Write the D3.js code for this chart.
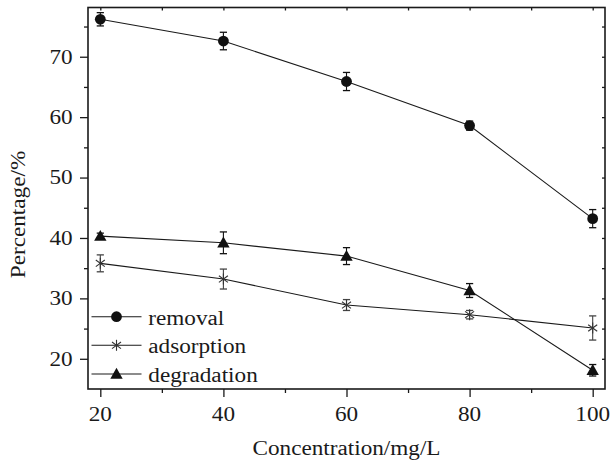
<!DOCTYPE html>
<html>
<head>
<meta charset="utf-8">
<script src="https://cdn.jsdelivr.net/npm/d3@7"></script>
<style>
  html, body { margin: 0; padding: 0; background: #fff; }
  svg { display: block; }
</style>
</head>
<body>
<svg id="chart" width="611" height="463"></svg>
<script>
// Concentration levels (mg/L)
const concentrations = [20, 40, 60, 80, 100];

// Percentages and standard deviations for each process
const removal = [76.2, 72.6, 65.9, 58.6, 43.2];
const removalErr = [1.1, 1.45, 1.5, 0.75, 1.5];
const adsorption = [35.8, 33.2, 28.9, 27.3, 25.1];
const adsorptionErr = [1.4, 1.65, 0.9, 0.7, 2.0];
const degradation = [40.3, 39.2, 37.0, 31.3, 18.1];
const degradationErr = [0.5, 1.8, 1.4, 1.15, 0.95];

const seriesNames = ["removal", "adsorption", "degradation"];
const xTicks = [20, 40, 60, 80, 100];
const xMinorTicks = [30, 50, 70, 90];
const yTicks = [20, 30, 40, 50, 60, 70];
const yMinorTicks = [25, 35, 45, 55, 65, 75];
const xTitle = "Concentration/mg/L";
const yTitle = "Percentage/%";

const series = [
  { name: seriesNames[0], values: removal, errors: removalErr, marker: "circle" },
  { name: seriesNames[1], values: adsorption, errors: adsorptionErr, marker: "asterisk" },
  { name: seriesNames[2], values: degradation, errors: degradationErr, marker: "triangle" }
];

const svg = d3.select("#chart");
const plotL = 88, plotR = 605, plotT = 7.5, plotB = 389;
const FONT = "'Liberation Serif', 'Times New Roman', serif";
const FS = 20, STRETCH = 1.16, INK = "#1a1a1a";

const x = d3.scaleLinear().domain([18, 102]).range([plotL, plotR]);
const y = d3.scaleLinear().domain([15, 78.15]).range([plotB, plotT]);

// Text helper: serif glyphs widened slightly along the baseline
function label(parent, px, py, str, anchor, rot) {
  const g = parent.append("g")
    .attr("transform", `translate(${px},${py}) rotate(${rot || 0}) scale(${STRETCH},1)`);
  g.append("text")
    .attr("text-anchor", anchor)
    .attr("font-family", FONT)
    .attr("font-size", FS)
    .attr("fill", INK)
    .text(str);
  return g;
}

// Axes: bottom/left with outward ticks, top/right mirrored with short inward ticks
const axisStyle = sel => {
  sel.select(".domain").remove();
  sel.selectAll("line").attr("stroke", INK).attr("stroke-width", 1.3);
  sel.selectAll("text").remove();
};

svg.append("g").attr("transform", `translate(0,${plotB})`)
  .call(d3.axisBottom(x).tickValues(xTicks).tickSize(8)).call(axisStyle);
svg.append("g").attr("transform", `translate(0,${plotB})`)
  .call(d3.axisBottom(x).tickValues(xMinorTicks).tickSize(4)).call(axisStyle);
svg.append("g").attr("transform", `translate(${plotL},0)`)
  .call(d3.axisLeft(y).tickValues(yTicks).tickSize(8)).call(axisStyle);
svg.append("g").attr("transform", `translate(${plotL},0)`)
  .call(d3.axisLeft(y).tickValues(yMinorTicks).tickSize(4)).call(axisStyle);
svg.append("g").attr("transform", `translate(0,${plotT})`)
  .call(d3.axisBottom(x).tickValues(xTicks.concat(xMinorTicks)).tickSize(3)).call(axisStyle);
svg.append("g").attr("transform", `translate(${plotR},0)`)
  .call(d3.axisLeft(y).tickValues(yTicks.concat(yMinorTicks)).tickSize(3)).call(axisStyle);

// Frame
svg.append("rect")
  .attr("x", plotL).attr("y", plotT)
  .attr("width", plotR - plotL).attr("height", plotB - plotT)
  .attr("fill", "none").attr("stroke", INK).attr("stroke-width", 1.6);

// Tick labels
xTicks.forEach(v => label(svg, x(v), 420.5, String(v), "middle"));
yTicks.forEach(v => label(svg, 72.7, y(v) + 6.8, String(v), "end"));

// Axis titles
label(svg, (plotL + plotR) / 2, 455, xTitle, "middle");
label(svg, 25, 214.5, yTitle, "middle", -90);

// Marker drawing
function drawMarker(g, type, cx, cy) {
  if (type === "circle") {
    g.append("circle").attr("cx", cx).attr("cy", cy).attr("r", 5.4).attr("fill", "#111");
  } else if (type === "triangle") {
    const s = 6.2;
    g.append("path")
      .attr("d", `M${cx},${cy - s}L${cx + s},${cy + s * 0.75}L${cx - s},${cy + s * 0.75}Z`)
      .attr("fill", "#111");
  } else {
    const r = 5.5;
    const arms = [[0, r], [r * 0.82, r * 0.6], [-r * 0.82, r * 0.6]];
    arms.forEach(([dx, dy]) => {
      g.append("line")
        .attr("x1", cx - dx).attr("y1", cy - dy)
        .attr("x2", cx + dx).attr("y2", cy + dy)
        .attr("stroke", "#333").attr("stroke-width", 1.1);
    });
  }
}

const line = d3.line().x(d => x(d[0])).y(d => y(d[1]));

series.forEach(s => {
  const pts = concentrations.map((c, i) => [c, s.values[i], s.errors[i]]);
  const g = svg.append("g");
  g.append("path").datum(pts).attr("d", line)
    .attr("fill", "none").attr("stroke", INK).attr("stroke-width", 1.1);

  // Error bars
  const barColor = s.marker === "asterisk" ? "#444" : "#111";
  pts.forEach(([c, v, e]) => {
    const cx = x(c), hw = 3.6;
    g.append("line").attr("x1", cx).attr("x2", cx)
      .attr("y1", y(v + e)).attr("y2", y(v - e))
      .attr("stroke", barColor).attr("stroke-width", 1.1);
    [v + e, v - e].forEach(t => {
      g.append("line").attr("x1", cx - hw).attr("x2", cx + hw)
        .attr("y1", y(t)).attr("y2", y(t))
        .attr("stroke", barColor).attr("stroke-width", 1.3);
    });
  });

  pts.forEach(([c, v]) => drawMarker(g, s.marker, x(c), y(v)));
});

// Legend
const legendRows = [316.7, 345.3, 374];
series.forEach((s, i) => {
  const g = svg.append("g");
  const ly = legendRows[i];
  g.append("line").attr("x1", 91.5).attr("x2", 141.5).attr("y1", ly).attr("y2", ly)
    .attr("stroke", INK).attr("stroke-width", 1.1);
  drawMarker(g, s.marker, 116.5, ly);
  label(g, 148.3, ly + 8, s.name, "start");
});
</script>
</body>
</html>
